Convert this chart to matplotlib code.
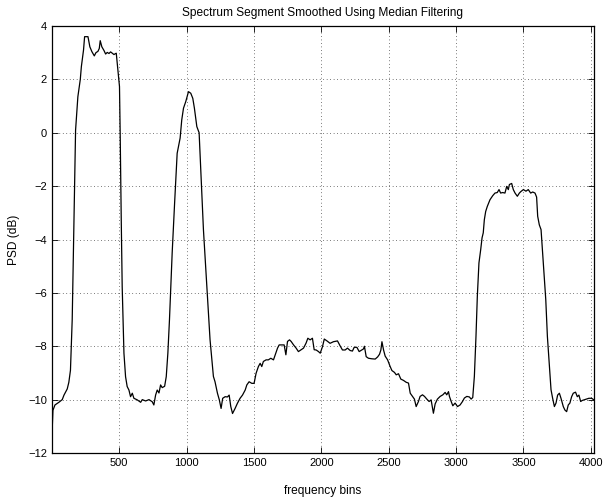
import matplotlib
matplotlib.use("Agg")
import matplotlib.pyplot as plt

freq_bins = [1, 8, 23, 52, 77, 90, 114, 126, 138, 151, 164, 176, 193, 211, 219, 235, 243,
             268, 282, 297, 315, 327, 342, 352, 359, 371, 387, 399, 411, 424, 436, 448, 461,
             470, 478, 490, 502, 507, 515, 522, 535, 547, 559, 572, 584, 597, 609, 634, 659,
             671, 696, 721, 745, 757, 770, 782, 795, 807, 819, 837, 849, 861, 873, 893, 911,
             930, 952, 964, 977, 994, 1014, 1031, 1046, 1058, 1076, 1093, 1105, 1125, 1150,
             1174, 1199, 1211, 1229, 1243, 1256, 1268, 1286, 1303, 1316, 1328, 1341, 1360,
             1377, 1397, 1415, 1435, 1447, 1464, 1484, 1501, 1516, 1533, 1546, 1558, 1570,
             1590, 1607, 1625, 1645, 1662, 1675, 1687, 1707, 1724, 1737, 1749, 1764, 1776,
             1794, 1813, 1830, 1848, 1868, 1887, 1900, 1917, 1934, 1947, 1962, 1979, 1992,
             2009, 2022, 2042, 2065, 2090, 2120, 2140, 2157, 2177, 2194, 2214, 2231, 2244,
             2264, 2281, 2301, 2313, 2320, 2333, 2350, 2375, 2400, 2418, 2432, 2442, 2450,
             2462, 2474, 2492, 2511, 2524, 2543, 2556, 2573, 2590, 2610, 2630, 2647, 2660,
             2677, 2691, 2704, 2721, 2733, 2751, 2766, 2783, 2800, 2815, 2832, 2845, 2862,
             2882, 2902, 2919, 2931, 2944, 2951, 2964, 2976, 2993, 3011, 3030, 3048, 3062,
             3080, 3099, 3112, 3124, 3136, 3148, 3158, 3170, 3183, 3193, 3202, 3210, 3220,
             3232, 3252, 3272, 3289, 3306, 3319, 3331, 3346, 3363, 3376, 3388, 3396, 3413,
             3425, 3438, 3455, 3470, 3482, 3500, 3519, 3536, 3554, 3569, 3586, 3598, 3606,
             3618, 3631, 3648, 3666, 3678, 3693, 3705, 3717, 3730, 3742, 3754, 3767, 3779,
             3796, 3808, 3821, 3833, 3845, 3858, 3870, 3887, 3900, 3912, 3925, 3937, 3949,
             3969, 3986, 4006, 4024]

psd_db = [-11.3, -10.4, -10.2, -10.1, -10.0, -9.83, -9.6, -9.35, -8.9, -7.0, -3.27, 0.1, 1.35,
          2.0, 2.48, 3.1, 3.6,
          3.6, 3.22, 3.04, 2.88, 3.0, 3.05, 3.16, 3.45, 3.22, 3.08, 2.95, 3.01, 2.97, 3.03,
          2.98, 2.93,
          2.96, 2.98, 2.35, 1.73, -0.02, -3.27, -5.77, -8.26, -9.14, -9.51, -9.64, -9.89,
          -9.76, -9.95, -10.01, -10.1,
          -10.0, -10.05, -10.0, -10.08, -10.2, -9.83, -9.64, -9.75, -9.45, -9.55, -9.5, -9.14,
          -8.26, -7.0, -4.5, -2.64,
          -0.77, -0.2, 0.48, 0.92, 1.17, 1.54, 1.48, 1.29, 0.92, 0.23, 0.0, -1.38, -3.63,
          -5.75,
          -7.75, -9.13, -9.33, -9.76, -10.01, -10.33, -9.95, -9.89, -9.9, -9.83, -10.26,
          -10.52, -10.33,
          -10.14, -9.95, -9.83, -9.64, -9.45, -9.33, -9.39, -9.39, -9.01, -8.76, -8.64,
          -8.76, -8.57,
          -8.51, -8.51, -8.45, -8.51, -8.26, -8.07, -7.95, -7.95, -7.95, -8.32, -7.82,
          -7.76, -7.82,
          -7.95, -8.07, -8.2, -8.14, -8.07, -7.88, -7.7, -7.76, -7.7, -8.13, -8.14,
          -8.2, -8.26,
          -8.01, -7.73, -7.8, -7.89, -7.83, -7.8, -7.99, -8.14, -8.14, -8.07, -8.16,
          -8.18, -8.04,
          -8.04, -8.2, -8.14, -8.1, -8.0, -8.39, -8.45, -8.47, -8.48, -8.4, -8.3, -8.14,
          -7.83,
          -8.14, -8.37, -8.51, -8.76, -8.91, -8.98, -9.07, -9.03, -9.23, -9.28, -9.35,
          -9.38, -9.76,
          -9.88, -9.98, -10.26, -10.07, -9.88, -9.82, -9.88, -9.98, -10.07, -10.01,
          -10.51, -10.16, -9.98,
          -9.88, -9.82, -9.73, -9.82, -9.7, -9.88, -10.07, -10.23, -10.13, -10.26, -10.2,
          -10.07, -9.94,
          -9.88, -9.9, -9.98, -9.92, -9.13, -7.63, -6.13, -4.88, -4.38, -3.94, -3.75,
          -3.26, -2.95,
          -2.76, -2.51, -2.36, -2.26, -2.24, -2.13, -2.26, -2.24, -2.26, -2.01, -2.13,
          -1.94, -1.9,
          -2.13, -2.26, -2.38, -2.26, -2.2, -2.13, -2.19, -2.13, -2.26, -2.22, -2.26,
          -2.41, -3.13,
          -3.45, -3.63, -4.88, -6.25, -7.63, -8.75, -9.63, -9.95, -10.26, -10.13, -9.83,
          -9.76, -9.95,
          -10.26, -10.39, -10.45, -10.2, -10.13, -9.89, -9.76, -9.72, -9.89, -9.83,
          -10.07, -10.03, -10.01,
          -9.98, -9.95, -9.95, -10.01]

x_ticks = [500, 1000, 1500, 2000, 2500, 3000, 3500, 4000]
y_ticks = [-12, -10, -8, -6, -4, -2, 0, 2, 4]

plt.rcParams['font.family'] = ['Liberation Sans', 'DejaVu Sans']
fig = plt.figure(figsize=(6.05, 4.99), dpi=100)
ax = fig.add_axes([52 / 605, 1 - 453 / 499, (594 - 52) / 605, (453 - 26) / 499])
ax.plot(freq_bins, psd_db, color='black', linewidth=0.9)
ax.set_xlim(1, 4024)
ax.set_ylim(-12, 4)
ax.set_xticks(x_ticks)
ax.set_yticks(y_ticks)
ax.tick_params(direction='in', top=True, right=True, labelsize=8, length=4, width=0.6)
ax.grid(True, color='black', linestyle=(0, (1, 4)), linewidth=0.5)
for s in ax.spines.values():
    s.set_linewidth(0.9)
ax.set_title('Spectrum Segment Smoothed Using Median Filtering', fontsize=8.6, pad=7)
ax.set_xlabel('frequency bins', fontsize=8.6, labelpad=12)
ax.set_ylabel('PSD (dB)', fontsize=8.6, labelpad=6)
fig.savefig('out.png', dpi=100)
